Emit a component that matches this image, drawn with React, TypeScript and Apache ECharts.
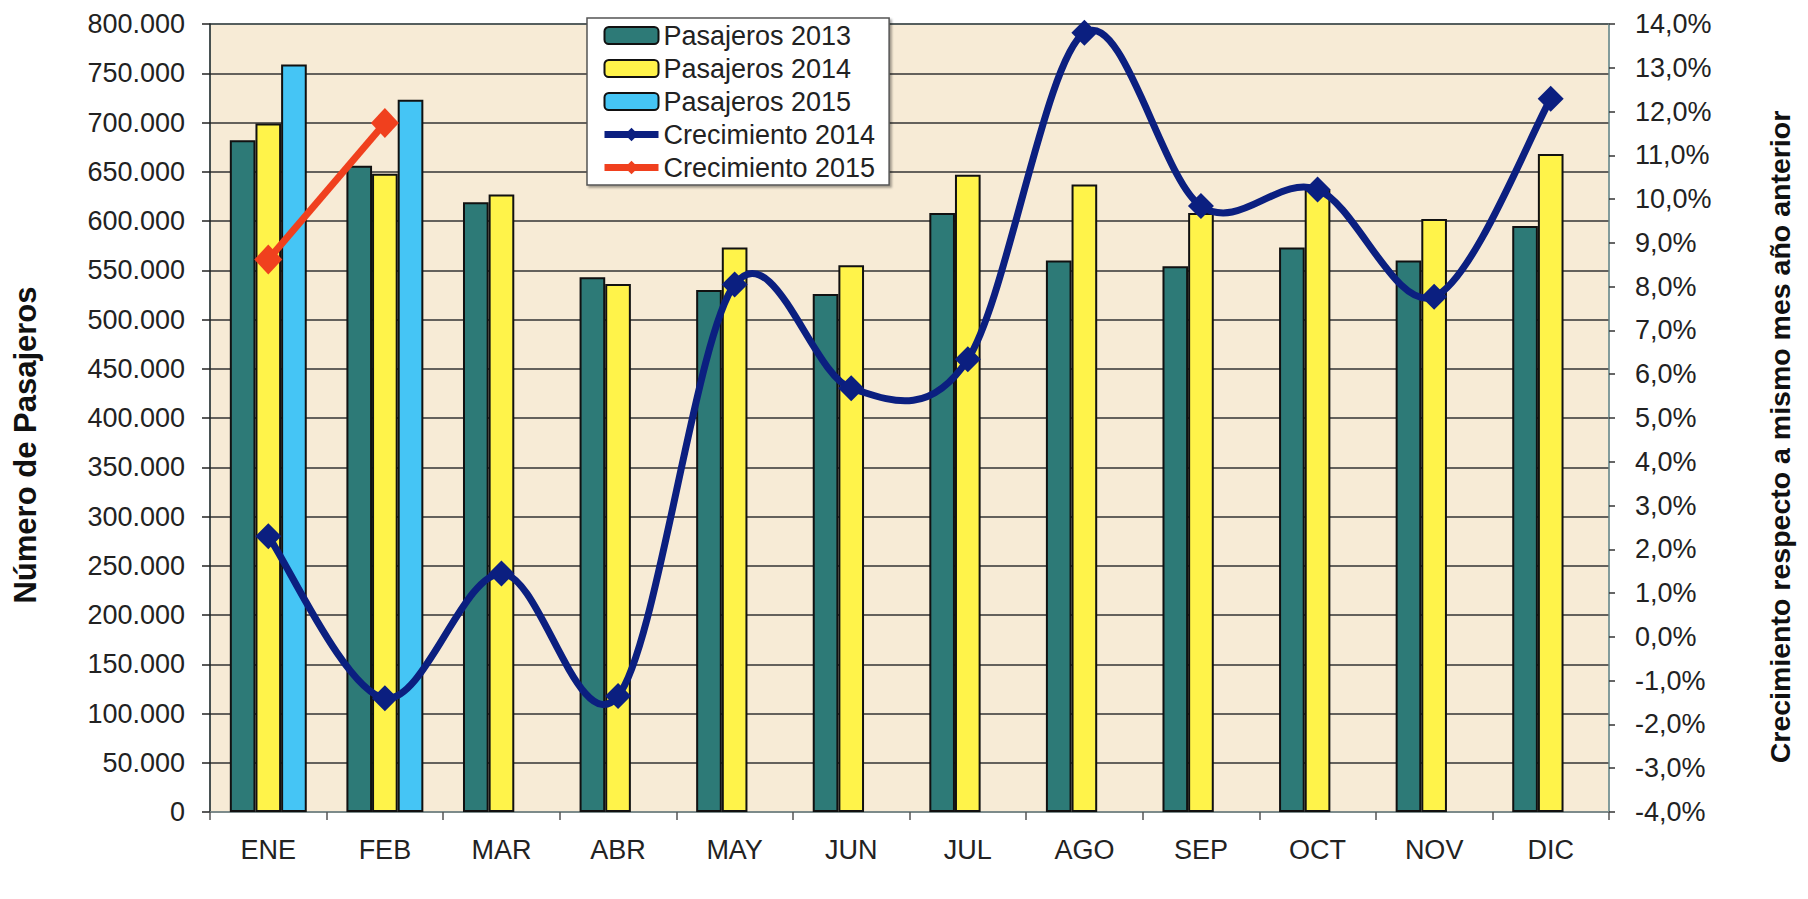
import React, { useEffect, useRef } from 'react';
import * as echarts from 'echarts';

const months = ['ENE', 'FEB', 'MAR', 'ABR', 'MAY', 'JUN', 'JUL', 'AGO', 'SEP', 'OCT', 'NOV', 'DIC'];
const pasajeros2013 = [682000, 656000, 619000, 543000, 530000, 526000, 608000, 560000, 554000, 573000, 560000, 595000];
const pasajeros2014 = [699000, 648000, 627000, 536000, 573000, 555000, 647000, 637000, 608000, 632000, 602000, 668000];
const pasajeros2015 = [759000, 723000, null, null, null, null, null, null, null, null, null, null];
const crecimiento2014 = [2.3, -1.4, 1.45, -1.35, 8.05, 5.68, 6.34, 13.8, 9.84, 10.22, 7.77, 12.29];
const crecimiento2015 = [8.62, 11.74, null, null, null, null, null, null, null, null, null, null];

const leftTitle = 'Número de Pasajeros';
const rightTitle = 'Crecimiento respecto a mismo mes año anterior';

const FONT = "'Liberation Sans', Arial, sans-serif";
const NAVY = '#0B1F80';
const RED = '#F0401E';

const fmtThousands = (v: number) => String(v).replace(/\B(?=(\d{3})+(?!\d))/g, '.');
const fmtPct = (v: number) => v.toFixed(1).replace('.', ',') + '%';

export default function App() {
  const ref = useRef<HTMLDivElement>(null);
  useEffect(() => {
    if (!ref.current) return;
    const chart = echarts.init(ref.current, undefined, { renderer: 'svg' });
    const barBorder = { borderColor: '#111', borderWidth: 2 };

    // Excel-like smoothed segment (Bezier, factor 1/6) between point i and i+1
    const renderSmoothSegment = (params: any, api: any) => {
      const i = params.dataIndex;
      const n = crecimiento2014.length;
      if (i >= n - 1) return null;
      const pt = (k: number) => {
        const kk = Math.max(0, Math.min(n - 1, k));
        return api.coord([kk, crecimiento2014[kk]]);
      };
      const p0 = pt(i - 1);
      const p1 = pt(i);
      const p2 = pt(i + 1);
      const p3 = pt(i + 2);
      const cp1 = [p1[0] + (p2[0] - p0[0]) / 6, p1[1] + (p2[1] - p0[1]) / 6];
      const cp2 = [p2[0] - (p3[0] - p1[0]) / 6, p2[1] - (p3[1] - p1[1]) / 6];
      return {
        type: 'bezierCurve',
        shape: {
          x1: p1[0], y1: p1[1],
          x2: p2[0], y2: p2[1],
          cpx1: cp1[0], cpy1: cp1[1],
          cpx2: cp2[0], cpy2: cp2[1],
        },
        style: { stroke: NAVY, lineWidth: 7, fill: null, lineCap: 'round' },
      };
    };

    chart.setOption({
      animation: false,
      backgroundColor: '#ffffff',
      textStyle: { fontFamily: FONT },
      grid: {
        left: 210,
        right: 199,
        top: 24,
        bottom: 87,
        show: true,
        backgroundColor: '#F7EBD6',
        borderColor: '#a9d9dd',
        borderWidth: 1.5,
      },
      legend: {
        orient: 'vertical',
        left: 587,
        top: 18,
        padding: [4, 14, 4, 14],
        itemWidth: 54,
        itemHeight: 17,
        itemGap: 6,
        backgroundColor: '#ffffff',
        borderColor: '#555',
        borderWidth: 1.5,
        shadowColor: 'rgba(0,0,0,0.35)',
        shadowBlur: 2,
        shadowOffsetX: 2,
        shadowOffsetY: 2,
        textStyle: { fontSize: 27, color: '#222', fontFamily: FONT },
        data: [
          { name: 'Pasajeros 2013' },
          { name: 'Pasajeros 2014' },
          { name: 'Pasajeros 2015' },
          { name: 'Crecimiento 2014', lineStyle: { width: 7, color: NAVY, opacity: 1 } },
          { name: 'Crecimiento 2015', lineStyle: { width: 7, color: RED, opacity: 1 } },
        ],
      },
      xAxis: {
        type: 'category',
        data: months,
        axisLine: { lineStyle: { color: '#8a9a9a', width: 1.5 } },
        axisTick: { show: true, length: 8, lineStyle: { color: '#555', width: 1.5 } },
        axisLabel: { fontSize: 27, color: '#222', margin: 24, fontFamily: FONT },
      },
      yAxis: [
        {
          type: 'value',
          min: 0,
          max: 800000,
          interval: 50000,
          axisLine: { show: true, lineStyle: { color: '#222', width: 1.5 } },
          axisTick: { show: true, length: 8, lineStyle: { color: '#222', width: 1.5 } },
          axisLabel: { fontSize: 27, color: '#222', margin: 25, formatter: fmtThousands, fontFamily: FONT },
          splitLine: { show: true, lineStyle: { color: '#333', width: 1.5 } },
        },
        {
          type: 'value',
          min: -4,
          max: 14,
          interval: 1,
          position: 'right',
          axisLine: { show: true, lineStyle: { color: '#6f8585', width: 1.5 } },
          axisTick: { show: true, length: 6, lineStyle: { color: '#333', width: 1.5 } },
          axisLabel: { fontSize: 27, color: '#222', margin: 26, formatter: fmtPct, fontFamily: FONT },
          splitLine: { show: false },
        },
      ],
      series: [
        {
          name: 'Pasajeros 2013',
          type: 'bar',
          data: pasajeros2013,
          barGap: '0%',
          barCategoryGap: '34%',
          itemStyle: { color: '#2D7A77', ...barBorder },
        },
        {
          name: 'Pasajeros 2014',
          type: 'bar',
          data: pasajeros2014,
          itemStyle: { color: '#FFF34A', ...barBorder },
        },
        {
          name: 'Pasajeros 2015',
          type: 'bar',
          data: pasajeros2015,
          itemStyle: { color: '#45C5F5', ...barBorder },
        },
        {
          name: 'Crecimiento 2014 (curva)',
          type: 'custom',
          yAxisIndex: 1,
          data: crecimiento2014.map((v, i) => [i, v]),
          encode: { x: 0, y: 1 },
          renderItem: renderSmoothSegment,
          clip: false,
          z: 4,
          silent: true,
        },
        {
          name: 'Crecimiento 2014',
          type: 'line',
          yAxisIndex: 1,
          data: crecimiento2014,
          symbol: 'diamond',
          symbolSize: 26,
          z: 5,
          lineStyle: { color: NAVY, width: 0, opacity: 0 },
          itemStyle: { color: NAVY },
        },
        {
          name: 'Crecimiento 2015',
          type: 'line',
          yAxisIndex: 1,
          data: crecimiento2015,
          symbol: 'diamond',
          symbolSize: [28, 30],
          z: 5,
          lineStyle: { color: RED, width: 7 },
          itemStyle: { color: RED },
        },
      ],
      graphic: [
        {
          type: 'text',
          x: 25,
          y: 445,
          rotation: Math.PI / 2,
          style: {
            text: leftTitle,
            fontSize: 31,
            fontWeight: 'bold',
            fontFamily: FONT,
            fill: '#111',
            textAlign: 'center',
            textVerticalAlign: 'middle',
          },
        },
        {
          type: 'text',
          x: 1780,
          y: 437,
          rotation: Math.PI / 2,
          style: {
            text: rightTitle,
            fontSize: 28.5,
            fontWeight: 'bold',
            fontFamily: FONT,
            fill: '#111',
            textAlign: 'center',
            textVerticalAlign: 'middle',
          },
        },
      ],
    });
    return () => chart.dispose();
  }, []);
  return <div ref={ref} style={{ position: 'fixed', left: 0, top: 0, width: 1808, height: 899 }} />;
}
